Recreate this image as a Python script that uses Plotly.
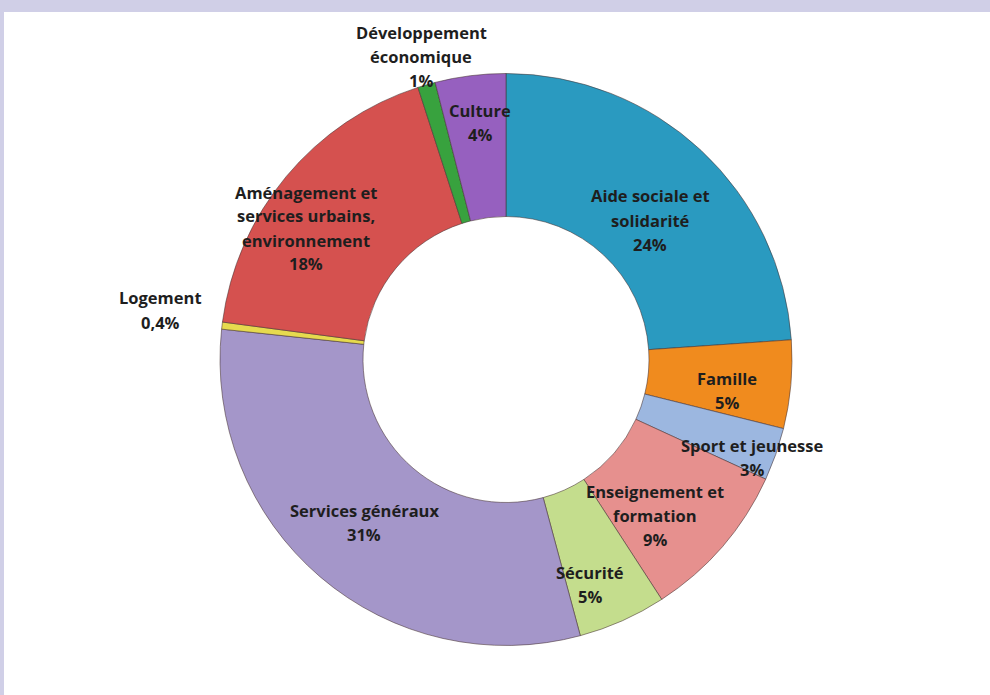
import plotly.graph_objects as go

# Budget breakdown by policy area (percent), clockwise from 12 o'clock
categories = [
    "Aide sociale et solidarité",
    "Famille",
    "Sport et jeunesse",
    "Enseignement et formation",
    "Sécurité",
    "Services généraux",
    "Logement",
    "Aménagement et services urbains, environnement",
    "Développement économique",
    "Culture",
]
values = [24, 5, 3, 9, 5, 31, 0.4, 18, 1, 4]
value_labels = ["24%", "5%", "3%", "9%", "5%", "31%", "0,4%", "18%", "1%", "4%"]

# Label text as shown on the chart, split into lines
label_lines = [
    ["Aide sociale et", "solidarité"],
    ["Famille"],
    ["Sport et jeunesse"],
    ["Enseignement et", "formation"],
    ["Sécurité"],
    ["Services généraux"],
    ["Logement"],
    ["Aménagement et", "services urbains,", "environnement"],
    ["Développement", "économique"],
    ["Culture"],
]

colors = [
    "#2a9ac0", "#f08b1e", "#9cb7e0", "#e6908e", "#c4dd8d",
    "#a496c9", "#e6da4e", "#d5514f", "#38a23e", "#9660bf",
]

W, H = 990, 695
cx, cy, R = 506, 359.5, 286  # pie centre and outer radius in pixels
LINE_GAP = 24                # vertical distance between label lines, px


def px(x):
    return x / W


def py(y):
    return 1 - y / H


fig = go.Figure()
fig.add_trace(go.Pie(
    labels=categories,
    values=values,
    hole=0.5,
    sort=False,
    direction="clockwise",
    rotation=0,
    marker=dict(colors=colors, line=dict(color="rgba(70,50,50,0.55)", width=1)),
    textinfo="none",
    hoverinfo="label+percent",
    showlegend=False,
    domain=dict(x=[px(cx - R), px(cx + R)], y=[py(cy + R), py(cy - R)]),
))

# Label anchor points (pixel centres of each text block)
label_pos = [
    (650, 220),
    (727, 390),
    (752, 457),
    (655, 515),
    (590, 584),
    (364, 522),
    (160, 310),
    (306, 228),
    (421, 57),
    (480, 122),
]

for lines, val, (x, y) in zip(label_lines, value_labels, label_pos):
    block = lines + [val]
    top = y - (len(block) - 1) * LINE_GAP / 2
    for i, line in enumerate(block):
        fig.add_annotation(
            x=px(x), y=py(top + i * LINE_GAP), xref="paper", yref="paper",
            text=line,
            showarrow=False,
            xanchor="center", yanchor="middle",
            font=dict(family="Open Sans", size=16.5, color="#1e1e1e", weight="bold"),
        )

# White content panel inside the lavender frame
fig.add_shape(
    type="rect", xref="paper", yref="paper",
    x0=px(4), x1=1, y0=0, y1=py(12),
    fillcolor="white", line=dict(width=0), layer="below",
)

fig.update_layout(
    width=W, height=H,
    margin=dict(l=0, r=0, t=0, b=0),
    paper_bgcolor="#d0cfe7",
    plot_bgcolor="white",
)

fig.write_html("out.html")
